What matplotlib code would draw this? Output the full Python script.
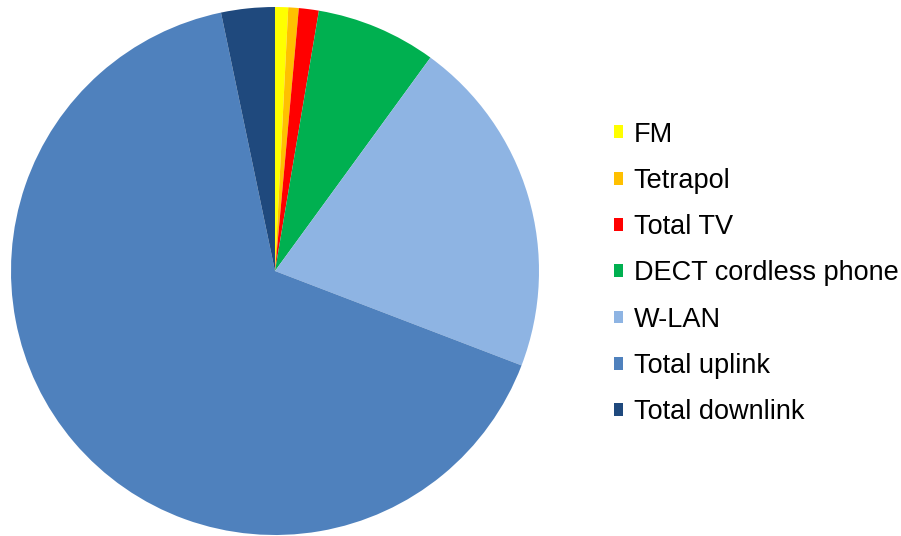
import matplotlib.pyplot as plt

labels = ['FM', 'Tetrapol', 'Total TV', 'DECT cordless phone', 'W-LAN',
          'Total uplink', 'Total downlink']
shares = [0.8, 0.64, 1.22, 7.36, 20.8, 65.9, 3.28]
colors = ['#FFFF00', '#FFC000', '#FF0000', '#00B050', '#8EB4E3',
          '#4F81BD', '#1F497D']

plt.rcParams['font.family'] = ['Liberation Sans', 'DejaVu Sans']

fig = plt.figure(figsize=(9.01, 5.36), dpi=100)
# pie centre ~ (275, 271) px, radius ~ 264 px
ax = fig.add_axes([11 / 901, 1 / 536, 528 / 901, 528 / 536])
wedges, _ = ax.pie(shares, colors=colors, startangle=90, counterclock=False,
                   radius=1, wedgeprops=dict(linewidth=0))
ax.set_xlim(-1, 1)
ax.set_ylim(-1, 1)
ax.set_aspect('equal')

fig.legend(wedges, labels, loc='upper left',
           bbox_to_anchor=(600 / 901, 1 - 108 / 536),
           frameon=False, fontsize=19.5, handlelength=0.35, handleheight=0.35,
           handletextpad=0.4, labelspacing=0.75, borderpad=0)

fig.savefig('out.png', dpi=100)
